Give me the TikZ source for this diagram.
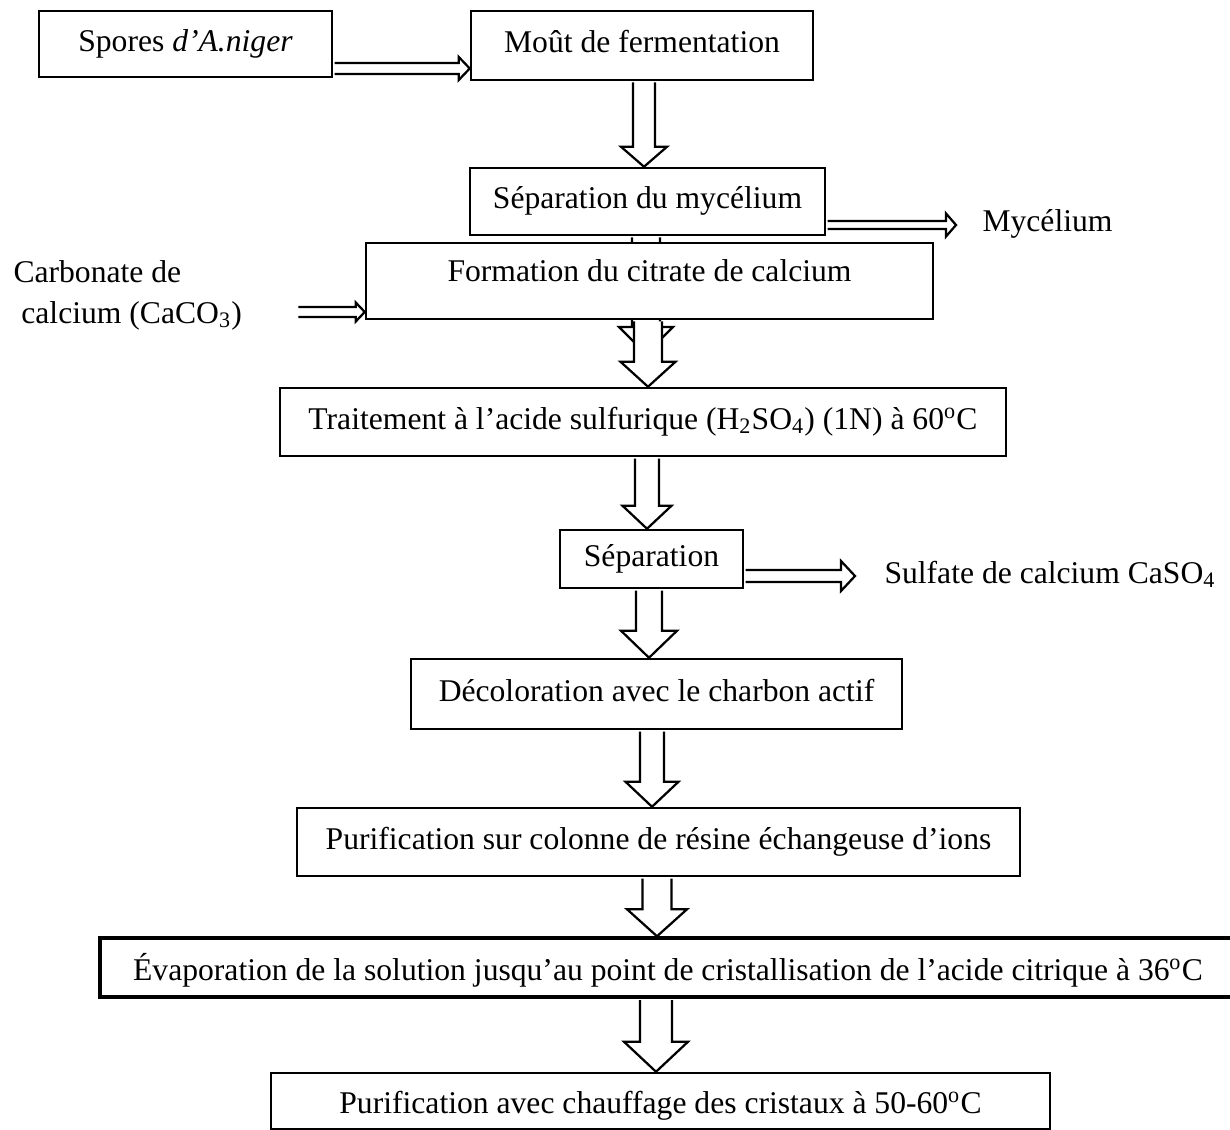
\documentclass[tikz,border=0pt]{standalone}
\usepackage{fontspec}
\setmainfont{Liberation Serif}
\usetikzlibrary{calc}

\newcommand{\pxu}{0.4pt}
\newcommand{\flowdown}[6]{%
\draw [blockarrow] let \p1=(#5), \p2=(#6) in
  ({(#1-#2)*\pxu},{\y1-0.5pt}) -- ({(#1-#2)*\pxu},{\y2+#4*\pxu}) -- ({(#1-#3)*\pxu},{\y2+#4*\pxu})
  -- ({#1*\pxu},\y2) -- ({(#1+#3)*\pxu},{\y2+#4*\pxu}) -- ({(#1+#2)*\pxu},{\y2+#4*\pxu}) -- ({(#1+#2)*\pxu},{\y1-0.5pt});}
\newcommand{\flowright}[6]{%
\draw [blockarrow] let \p1=(#5), \p2=(#6) in
  ({\x1+0.5pt},{-(#1-#2)*\pxu}) -- ({\x2-#4*\pxu},{-(#1-#2)*\pxu}) -- ({\x2-#4*\pxu},{-(#1-#3)*\pxu})
  -- (\x2,{-#1*\pxu}) -- ({\x2-#4*\pxu},{-(#1+#3)*\pxu}) -- ({\x2-#4*\pxu},{-(#1+#2)*\pxu}) -- ({\x1+0.5pt},{-(#1+#2)*\pxu});}

\tikzset{
  stepbox/.style={draw, line width=1pt, fill=white, inner sep=0pt, text height=8.9pt, text depth=3.2pt,
    font=\fontsize{12.65pt}{16.4pt}\selectfont},
  sidetext/.style={inner sep=0pt, font=\fontsize{12.65pt}{16.4pt}\selectfont},
  blockarrow/.style={draw, fill=white, line width=0.9pt, line join=miter}
}

\begin{document}
\begin{tikzpicture}[x=0.4pt, y=-0.4pt]
\useasboundingbox (0,0) rectangle (1230,1130);
\node (spores) [stepbox, minimum width=117.2pt, minimum height=26.4pt] at (185.5,44) {Spores \textit{d’A.niger}};
\node (mout) [stepbox, minimum width=136.8pt, minimum height=27.6pt] at (642,45.5) {Moût de fermentation};
\node (sepmyc) [stepbox, minimum width=142pt, minimum height=26.8pt] at (647.5,201.5) {Séparation du mycélium};
\node (myc) [sidetext, anchor=base west] at (982,232) {Mycélium};
\node (caco3) [sidetext, anchor=north west, align=left] at (13,260) {Carbonate de\\ \ calcium (CaCO\textsubscript{3})};
\coordinate (caco3out) at (297,312);
\coordinate (sepmyctip) at (646,354);
\flowright{68.5}{5.5}{11.5}{11}{spores.east}{mout.west}
\flowright{225}{4}{11.5}{10}{sepmyc.east}{[xshift=-10.4pt]myc.base west}
\flowdown{646}{14}{27}{27}{sepmyc.south}{sepmyctip}
\node (formation) [stepbox, minimum width=226.8pt, minimum height=30.4pt, text depth=8.1pt] at (649.5,281) {Formation du citrate de calcium};
\flowright{312}{5}{9.5}{9}{caco3out}{formation.west}
\node (traitement) [stepbox, minimum width=290.4pt, minimum height=27.2pt] at (643,422) {Traitement à l’acide sulfurique (H\textsubscript{2}SO\textsubscript{4}) (1N) à 60\textsuperscript{o}C};
\node (separation) [stepbox, minimum width=73.2pt, minimum height=23.2pt] at (651.5,559) {Séparation};
\node (caso4) [sidetext, anchor=base west] at (884,583) {Sulfate de calcium CaSO\textsubscript{4}};
\flowright{576}{6}{15}{14}{separation.east}{[xshift=-11.6pt]caso4.base west}
\node (decol) [stepbox, minimum width=196.4pt, minimum height=28pt] at (656.5,694) {Décoloration avec le charbon actif};
\node (purif) [stepbox, minimum width=289.2pt, minimum height=27.2pt] at (658.5,842) {Purification sur colonne de résine échangeuse d’ions};
\node (evap) [stepbox, line width=1.4pt, minimum width=454.4pt, minimum height=23.6pt, text height=13.2pt] at (668,967.5) {Évaporation de la solution jusqu’au point de cristallisation de l’acide citrique à 36\textsuperscript{o}C};
\node (final) [stepbox, minimum width=311.6pt, minimum height=22.4pt, text height=12.8pt] at (660.5,1101) {Purification avec chauffage des cristaux à 50-60\textsuperscript{o}C};
\foreach \xa/\sh/\hh/\hl/\from/\to in {644/11/23/20/mout.south/sepmyc.north, 648/14/27.5/25/formation.south/traitement.north,
  647/12/24.5/23/traitement.south/separation.north, 649/13/28/27/separation.south/decol.north,
  652/12/26.5/25/decol.south/purif.north, 657/14.5/30/27/purif.south/evap.north, 656/16/32/30/evap.south/final.north}
  {\flowdown{\xa}{\sh}{\hh}{\hl}{\from}{\to}}
\end{tikzpicture}
\end{document}
